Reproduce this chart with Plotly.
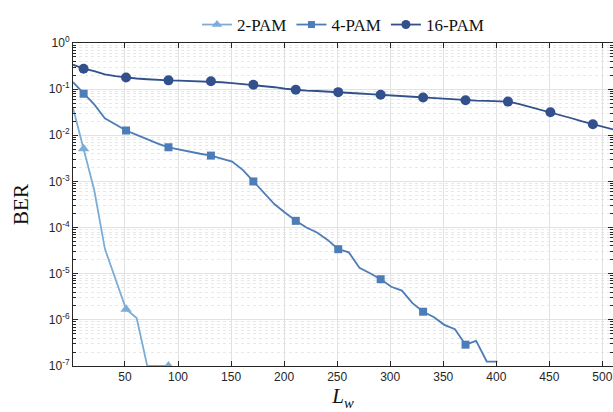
import plotly.graph_objects as go

# ---- data ----
L_16 = [1, 11, 21, 31, 41, 51, 61, 71, 81, 91, 101, 111, 121, 131, 141, 151, 161, 171, 181, 191,
        201, 211, 221, 231, 241, 251, 261, 271, 281, 291, 301, 311, 321, 331, 341, 351, 361, 371,
        381, 391, 401, 411, 421, 431, 441, 451, 461, 471, 481, 491, 501, 511]
ber_16 = [0.339, 0.277, 0.245, 0.209, 0.191, 0.179, 0.170, 0.164, 0.158, 0.155, 0.153, 0.151, 0.150,
          0.148, 0.141, 0.135, 0.129, 0.124, 0.116, 0.110, 0.102, 0.0968, 0.0933, 0.0912, 0.0891,
          0.0861, 0.0832, 0.0804, 0.0776, 0.0759, 0.0733, 0.0708, 0.0684, 0.0661, 0.0638, 0.0617,
          0.0596, 0.0575, 0.0562, 0.0556, 0.0550, 0.0537, 0.0479, 0.0417, 0.0363, 0.0316, 0.0275,
          0.0234, 0.0200, 0.0174, 0.0151, 0.0132]

L_4 = [1, 11, 21, 31, 41, 51, 61, 71, 81, 91, 101, 111, 121, 131, 141, 151, 161, 171, 181, 191,
       201, 211, 221, 231, 241, 251, 261, 271, 281, 291, 301, 311, 321, 331, 341, 351, 361, 371,
       381, 391, 401]
ber_4 = [0.142, 0.0794, 0.0468, 0.0234, 0.0170, 0.0127, 0.0102, 0.00813, 0.00661, 0.00550, 0.00490,
         0.00437, 0.00398, 0.00363, 0.00316, 0.00269, 0.00178, 0.00100, 5.6e-4, 3.2e-4, 2.1e-4,
         1.4e-4, 1.0e-4, 7.8e-5, 5.4e-5, 3.4e-5, 2.9e-5, 1.35e-5, 1.02e-5, 7.6e-6, 5.2e-6, 4.3e-6,
         2.3e-6, 1.5e-6, 1.15e-6, 7.8e-7, 6.3e-7, 2.9e-7, 3.5e-7, 1.25e-7, 1.25e-7]

L_2 = [1, 11, 21, 31, 41, 51, 61, 71, 81, 91]
ber_2 = [0.039, 0.0051, 6.5e-4, 3.5e-5, 7.9e-6, 1.7e-6, 1.1e-6, 1e-7, 1e-7, 1e-7]

marker_every = 4  # markers every 40 samples starting at L=11

x_ticks = [50, 100, 150, 200, 250, 300, 350, 400, 450, 500]
y_exps = [0, -1, -2, -3, -4, -5, -6, -7]
y_tickvals = [10 ** e for e in y_exps]
y_ticktext = ["10<sup>%d</sup>" % e for e in y_exps]

series = [
    ("2-PAM", L_2, ber_2, "#7badd6", "triangle-up", 10),
    ("4-PAM", L_4, ber_4, "#4c7db8", "square", 8),
    ("16-PAM", L_16, ber_16, "#31508c", "circle", 10),
]

fig = go.Figure()
for name, xs, ys, color, sym, msz in series:
    fig.add_trace(go.Scatter(x=xs, y=ys, mode="lines", line=dict(color=color, width=1.8),
                             showlegend=False, hoverinfo="skip"))
    mx = xs[1::marker_every]
    my = ys[1::marker_every]
    fig.add_trace(go.Scatter(x=mx, y=my, mode="markers", marker=dict(symbol=sym, size=msz, color=color),
                             showlegend=False))
    fig.add_trace(go.Scatter(x=[None], y=[None], mode="lines+markers", name=name,
                             line=dict(color=color, width=1.8),
                             marker=dict(symbol=sym, size=msz - 1, color=color)))

axis_common = dict(
    showline=True, linecolor="#262626", linewidth=1, mirror="ticks",
    ticks="inside", ticklen=5, tickcolor="#262626",
    tickfont=dict(family="Liberation Sans, Arial", size=12, color="#262626"),
    showgrid=True, gridcolor="#e2e2e2", gridwidth=1, zeroline=False,
)

fig.update_xaxes(range=[1, 510], tickvals=x_ticks, ticklabeloverflow="allow", **axis_common,
                 title=dict(text="<i>L</i><sub><i>w</i></sub>", standoff=4,
                            font=dict(family="Liberation Serif, Times New Roman", size=21, color="#111")))
fig.update_yaxes(type="log", range=[-7, 0], tickvals=y_tickvals, ticktext=y_ticktext, **axis_common,
                 minor=dict(dtick="D1", ticks="inside", ticklen=3, tickcolor="#262626",
                            showgrid=True, gridcolor="#e8e8e8", griddash="dot", gridwidth=1),
                 title=dict(text="BER", standoff=14,
                            font=dict(family="Liberation Serif, Times New Roman", size=21, color="#111")))

fig.update_layout(
    width=613, height=412,
    margin=dict(l=73, r=0, t=43, b=46),
    paper_bgcolor="white", plot_bgcolor="white",
    legend=dict(orientation="h", x=0.5, xanchor="center", y=1.0, yanchor="bottom",
                font=dict(family="Liberation Serif, Times New Roman", size=17, color="#111"),
                itemwidth=30, tracegroupgap=0, bgcolor="rgba(0,0,0,0)"),
)

# remove the browser's default 8px page margin so the figure sits at the window origin
fig.write_html("out.html", config={"displayModeBar": False},
               post_script="document.body.style.margin='0';document.body.style.overflow='hidden';")
